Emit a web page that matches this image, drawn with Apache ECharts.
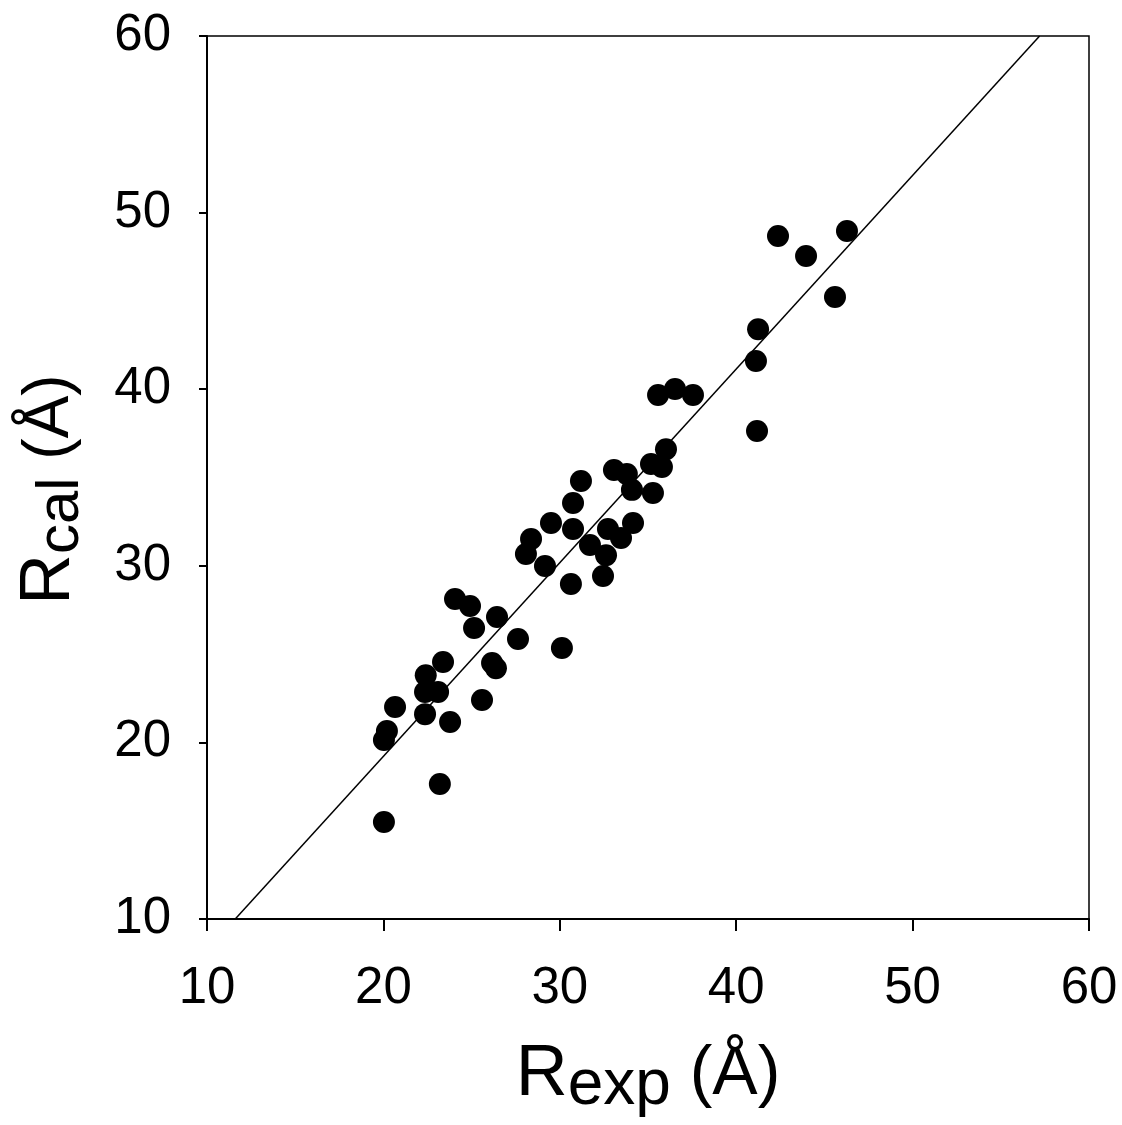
<!DOCTYPE html>
<html>
<head>
<meta charset="utf-8">
<script src="https://cdn.jsdelivr.net/npm/echarts@6/dist/echarts.min.js"></script>
<style>
html,body{margin:0;padding:0;background:#fff;}
#chart{width:1122px;height:1125px;}
</style>
</head>
<body>
<div id="chart"></div>
<script>
// Experimental vs calculated values (Å)
var rExp = [20.03, 20.03, 20.2, 20.66, 22.36, 22.4, 22.36, 23.1, 23.38, 23.2,
            23.78, 24.06, 24.91, 25.14, 25.59, 26.16, 26.38, 26.44, 27.63, 28.08,
            28.37, 29.16, 29.5, 30.12, 30.63, 30.75, 30.75, 31.2, 31.71, 32.45,
            32.62, 32.73, 33.07, 33.47, 33.8, 34.09, 34.15, 35.17, 35.28, 35.57,
            35.79, 36.02, 36.53, 37.55, 41.12, 41.24, 41.18, 42.37, 43.96, 45.6, 46.28];
var rCal = [15.49, 20.14, 20.65, 22.0, 21.6, 23.8, 22.85, 22.85, 24.55, 17.64,
            21.16, 28.12, 27.72, 26.48, 22.4, 24.5, 24.2, 27.1, 25.86, 30.67,
            31.52, 29.99, 32.42, 25.35, 28.97, 32.08, 33.56, 34.8, 31.18, 29.42,
            30.6, 32.08, 35.42, 31.57, 35.2, 34.3, 32.42, 35.76, 34.12, 39.67,
            35.6, 36.6, 40.01, 39.67, 41.6, 43.4, 37.63, 48.68, 47.54, 45.22, 48.96];
// Fit line end points (x, y)
var fitX = [11.6, 57.2];
var fitY = [10, 60];
var xTicks = [10, 20, 30, 40, 50, 60];
var yTicks = [10, 20, 30, 40, 50, 60];

var points = rExp.map(function (x, i) { return [x, rCal[i]]; });
var fitLine = fitX.map(function (x, i) { return [x, fitY[i]]; });

var FONT = '"Liberation Sans", Arial, sans-serif';
var chart = echarts.init(document.getElementById('chart'), null, {renderer: 'canvas'});
chart.setOption({
  animation: false,
  backgroundColor: '#fff',
  grid: {left: 207, top: 36, right: 33, bottom: 206, show: true,
         containLabel: false, outerBoundsMode: 'none',
         borderColor: '#000', borderWidth: 1.5, backgroundColor: 'transparent'},
  xAxis: {
    type: 'value', min: xTicks[0], max: xTicks[xTicks.length - 1], interval: 10,
    splitLine: {show: false},
    axisLine: {show: true, onZero: false, lineStyle: {color: '#000', width: 2}},
    axisTick: {show: true, inside: false, length: 12, lineStyle: {color: '#000', width: 2}},
    axisLabel: {color: '#000', fontSize: 51, fontFamily: FONT, margin: 44},
    name: '{r|R}{s|exp}{n| (Å)}',
    nameLocation: 'middle', nameGap: 113,
    nameTextStyle: {
      rich: {
        r: {fontSize: 72, fontFamily: FONT, color: '#000'},
        s: {fontSize: 64, fontFamily: FONT, color: '#000', padding: [22, 0, 0, 0]},
        n: {fontSize: 68, fontFamily: FONT, color: '#000'}
      }
    }
  },
  yAxis: {
    type: 'value', min: yTicks[0], max: yTicks[yTicks.length - 1], interval: 10,
    splitLine: {show: false},
    axisLine: {show: true, onZero: false, lineStyle: {color: '#000', width: 2}},
    axisTick: {show: true, inside: false, length: 8, lineStyle: {color: '#000', width: 2}},
    axisLabel: {color: '#000', fontSize: 51, fontFamily: FONT, margin: 36},
    name: '{r|R}{s|cal}{n| (Å)}',
    nameLocation: 'middle', nameGap: 116, nameRotate: 90,
    nameTextStyle: {
      padding: [0, 24, 0, 0],
      rich: {
        r: {fontSize: 70, fontFamily: FONT, color: '#000'},
        s: {fontSize: 60, fontFamily: FONT, color: '#000', padding: [22, 0, 0, 0]},
        n: {fontSize: 64, fontFamily: FONT, color: '#000'}
      }
    }
  },
  series: [
    {
      type: 'line', data: fitLine, symbol: 'none', silent: true, clip: true,
      lineStyle: {color: '#000', width: 1.5}, z: 2
    },
    {
      type: 'scatter', data: points, symbol: 'circle', symbolSize: 22,
      itemStyle: {color: '#000', opacity: 1}, z: 3
    }
  ]
});
</script>
</body>
</html>
